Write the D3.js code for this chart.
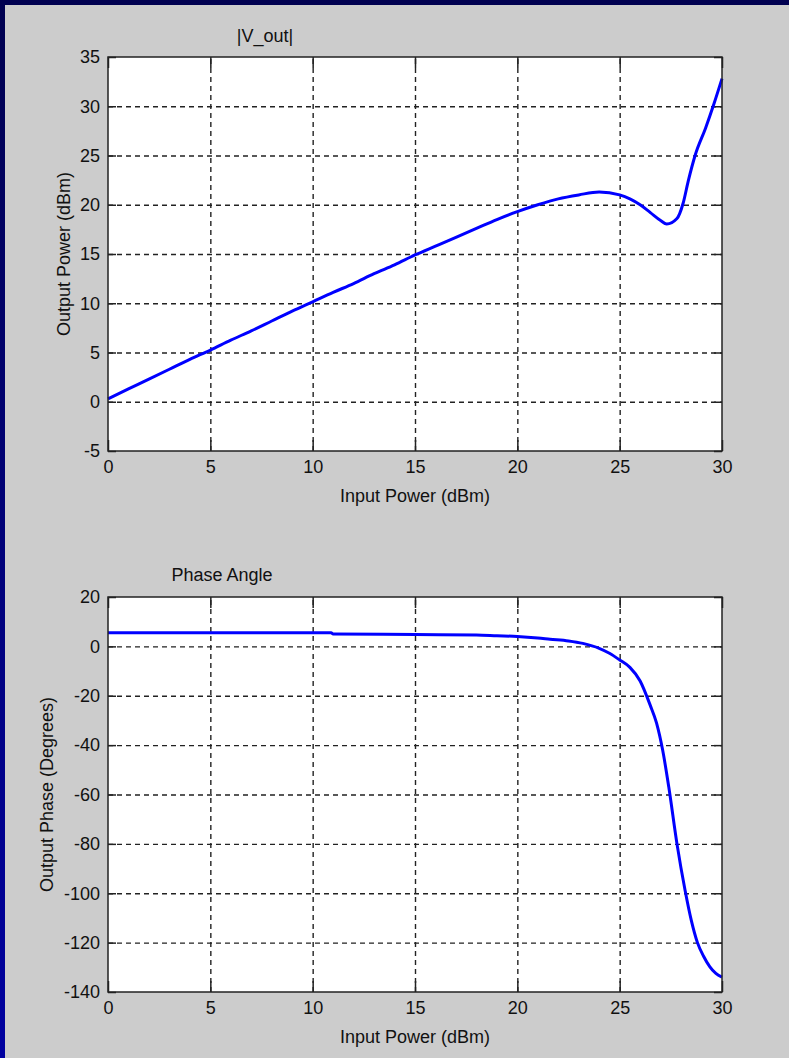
<!DOCTYPE html>
<html><head><meta charset="utf-8">
<script src="https://cdn.jsdelivr.net/npm/d3@7"></script>
<style>
body{margin:0;background:#000080;}
svg{display:block;}
text{font-family:"Liberation Sans",Arial,sans-serif;fill:#111;}
</style>
</head><body>
<svg id="c" width="789" height="1058"></svg>
<script>
// ---- data ----
const magInput = [0,1,2,3,4,5,6,7,8,9,10,11,12,13,14,15,16,17,18,19,20,21,22,23,24,25,25.5,26,26.5,27,27.3,27.8,28.1,28.35,28.7,29.2,29.6,30];
const magOutput = [0.3,1.3,2.3,3.3,4.3,5.25,6.25,7.2,8.2,9.2,10.15,11.1,12.0,13.0,13.9,14.9,15.8,16.7,17.6,18.5,19.3,20.0,20.6,21.0,21.3,21.0,20.6,20.0,19.2,18.4,18.05,18.6,20.15,22.4,25.1,27.8,30.2,32.8];
const phaseInput = [0,5,10,10.9,11,15,18,19,20,21,21.6,22.5,23.2,24,24.5,25,25.5,26,26.5,26.8,27.1,27.4,27.8,28.2,28.5,28.8,29.1,29.4,29.7,30];
const phaseOutput = [5.5,5.5,5.5,5.5,5.0,4.8,4.6,4.3,4.0,3.4,2.9,2.2,1.2,-0.8,-2.8,-5.5,-8.5,-14,-24,-31,-42,-57,-80,-99,-111,-120,-125.5,-129.7,-132.5,-134];
const xTicks = [0,5,10,15,20,25,30];
const magTicks = [-5,0,5,10,15,20,25,30,35];
const phaseTicks = [-140,-120,-100,-80,-60,-40,-20,0,20];
const titles = ["|V_out|","Phase Angle"];
const xLabel = "Input Power (dBm)";
const yLabels = ["Output Power (dBm)","Output Phase (Degrees)"];

const svg = d3.select("#c");
const W = 789, H = 1058;

// background
const defs = svg.append("defs");
const grad = defs.append("linearGradient").attr("id","bg").attr("x1",0).attr("y1",0).attr("x2",0).attr("y2",1);
grad.append("stop").attr("offset","0%").attr("stop-color","#000050");
grad.append("stop").attr("offset","100%").attr("stop-color","#0000a0");
svg.append("rect").attr("width",W).attr("height",H).attr("fill","url(#bg)");
svg.append("rect").attr("x",5).attr("y",5).attr("width",W-5).attr("height",H-5).attr("fill","#cccccc");

const panels = [
  {top:57, bottom:451, xs:magInput, ys:magOutput, yDomain:[-5,35], yTicks:magTicks,
   title:titles[0], titleX:265, titleY:42, yLabel:yLabels[0], yLabelX:70},
  {top:597, bottom:992, xs:phaseInput, ys:phaseOutput, yDomain:[-140,20], yTicks:phaseTicks,
   title:titles[1], titleX:222, titleY:581, yLabel:yLabels[1], yLabelX:53}
];
const left = 108, right = 722;
const fmt = d => String(d);

panels.forEach(p => {
  const x = d3.scaleLinear().domain([0,30]).range([left,right]);
  const y = d3.scaleLinear().domain(p.yDomain).range([p.bottom,p.top]);
  const g = svg.append("g");
  const w = right-left, h = p.bottom-p.top;

  g.append("rect").attr("x",left).attr("y",p.top).attr("width",w).attr("height",h).attr("fill","#fff");

  // grid
  const gx = g.append("g").attr("transform",`translate(0,${p.bottom})`)
    .call(d3.axisBottom(x).tickValues(xTicks.slice(1,-1)).tickSize(-h).tickFormat(""));
  gx.select(".domain").remove();
  gx.selectAll("line").attr("stroke","#222").attr("stroke-width",1.4).attr("stroke-dasharray","5,4");
  const gy = g.append("g").attr("transform",`translate(${left},0)`)
    .call(d3.axisLeft(y).tickValues(p.yTicks.slice(1,-1)).tickSize(-w).tickFormat(""));
  gy.select(".domain").remove();
  gy.selectAll("line").attr("stroke","#222").attr("stroke-width",1.4).attr("stroke-dasharray","5,4");

  // inward ticks
  const tickStyle = s => { s.select(".domain").remove(); s.selectAll("line").attr("stroke","#222").attr("stroke-width",1.5); };
  g.append("g").attr("transform",`translate(0,${p.bottom})`).call(d3.axisBottom(x).tickValues(xTicks).tickSize(-11).tickFormat("")).call(tickStyle);
  g.append("g").attr("transform",`translate(0,${p.top})`).call(d3.axisTop(x).tickValues(xTicks).tickSize(-11).tickFormat("")).call(tickStyle);
  g.append("g").attr("transform",`translate(${left},0)`).call(d3.axisLeft(y).tickValues(p.yTicks).tickSize(-8).tickFormat("")).call(tickStyle);
  g.append("g").attr("transform",`translate(${right},0)`).call(d3.axisRight(y).tickValues(p.yTicks).tickSize(-8).tickFormat("")).call(tickStyle);

  // labels
  const lx = g.append("g").attr("transform",`translate(0,${p.bottom})`)
    .call(d3.axisBottom(x).tickValues(xTicks).tickSize(0).tickPadding(9).tickFormat(fmt));
  lx.select(".domain").remove();
  lx.selectAll("text").attr("font-size",18).attr("fill","#111").attr("font-family","Liberation Sans, Arial, sans-serif");
  const ly = g.append("g").attr("transform",`translate(${left},0)`)
    .call(d3.axisLeft(y).tickValues(p.yTicks).tickSize(0).tickPadding(8).tickFormat(fmt));
  ly.select(".domain").remove();
  ly.selectAll("text").attr("font-size",18).attr("fill","#111").attr("font-family","Liberation Sans, Arial, sans-serif");

  // curve
  const line = d3.line().x((d,i)=>x(p.xs[i])).y(d=>y(d)).curve(d3.curveMonotoneX);
  g.append("path").datum(p.ys).attr("d",line).attr("fill","none").attr("stroke","#0000ff").attr("stroke-width",3).attr("stroke-linejoin","round");

  // frame
  g.append("rect").attr("x",left).attr("y",p.top).attr("width",w).attr("height",h)
    .attr("fill","none").attr("stroke","#222").attr("stroke-width",1.5);

  // texts
  g.append("text").attr("x",p.titleX).attr("y",p.titleY).attr("text-anchor","middle").attr("font-size",18).text(p.title);
  g.append("text").attr("x",(left+right)/2).attr("y",p.bottom+51).attr("text-anchor","middle").attr("font-size",18).text(xLabel);
  g.append("text").attr("transform",`translate(${p.yLabelX},${(p.top+p.bottom)/2}) rotate(-90)`)
    .attr("text-anchor","middle").attr("font-size",18).text(p.yLabel);
});
</script>
</body></html>
